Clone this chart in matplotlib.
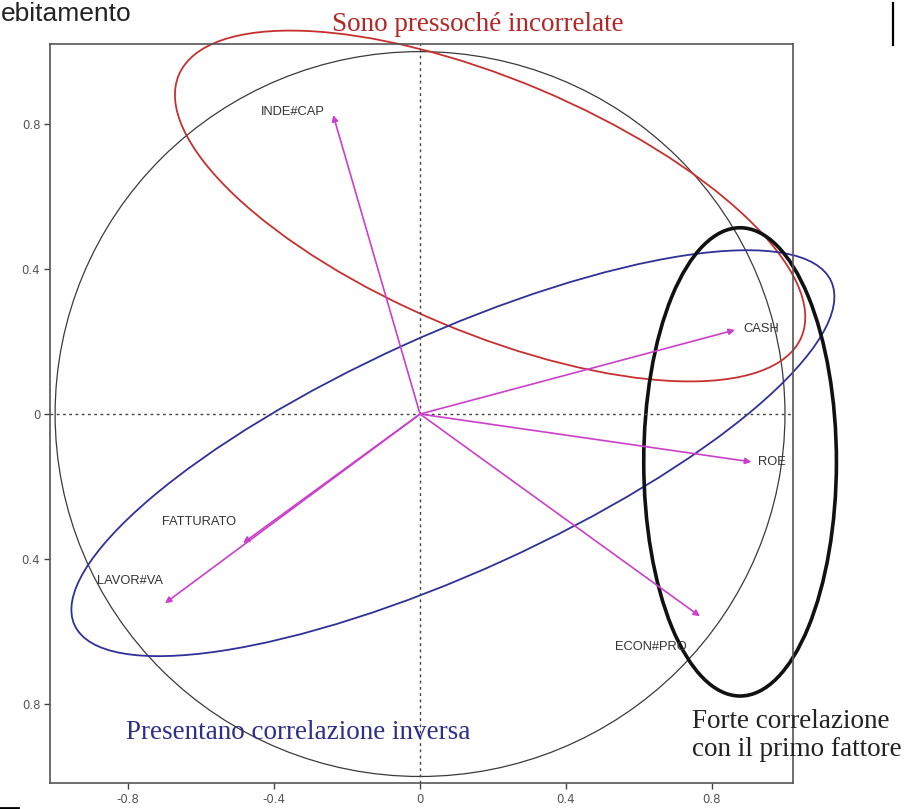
import matplotlib
matplotlib.use("Agg")
import matplotlib.pyplot as plt
from matplotlib.patches import Ellipse, Circle
from matplotlib.lines import Line2D

# variable coordinates on the first two factors
variables = ["INDE#CAP", "CASH", "ROE", "ECON#PRO", "FATTURATO", "LAVOR#VA"]
f1 = [-0.238, 0.863, 0.908, 0.767, -0.485, -0.699]
f2 = [0.825, 0.232, -0.132, -0.558, -0.356, -0.522]
# label offsets from arrow tips (points) and alignment
label_off = [(-6, 2), (6, 1), (5, 0), (-61, -22), (-58, 15), (-49, 16)]
label_ha = ["right", "left", "left", "left", "left", "left"]

xticks = [-0.8, -0.4, 0, 0.4, 0.8]
xtick_labels = ["-0.8", "-0.4", "0", "0.4", "0.8"]
yticks = [0.8, 0.4, 0, -0.4, -0.8]
ytick_labels = ["0.8", "0.4", "0", "0.4", "0.8"]

# highlighted groups: (center x, center y, width, height, angle)
red_ell = (0.192, 0.574, 1.853, 0.698, -23)
blue_ell = (0.09, -0.108, 2.28, 0.654, 24.6)
black_ell = (0.877, -0.132, 0.528, 1.292, 0)

fig = plt.figure(figsize=(9.06, 8.09), dpi=100)
ax = fig.add_axes([50 / 906, 26 / 809, 743 / 906, 739 / 809])
ax.set_xlim(-1.014, 1.022)
ax.set_ylim(-1.018, 1.021)

for s in ax.spines.values():
    s.set_color("#555555")
    s.set_linewidth(1.2)

ax.set_xticks(xticks)
ax.set_xticklabels(xtick_labels)
ax.set_yticks(yticks)
ax.set_yticklabels(ytick_labels)
ax.tick_params(direction="out", length=4, width=1, colors="#444444",
               labelsize=8.5, labelcolor="#555555", pad=3)

ax.axhline(0, color="#444444", lw=1, ls=(0, (2, 2.5)))
ax.axvline(0, color="#444444", lw=1, ls=(0, (2, 2.5)))

ax.add_patch(Circle((0, 0), 1, fill=False, ec="#3a3a3a", lw=0.9))

for name, x, y, off, ha in zip(variables, f1, f2, label_off, label_ha):
    ax.annotate("", xy=(x, y), xytext=(0, 0),
                arrowprops=dict(arrowstyle="-|>", color="#cc3fcc", lw=1.2,
                                mutation_scale=9, shrinkA=0, shrinkB=0))
    ax.annotate(name, xy=(x, y), xytext=off, textcoords="offset points",
                ha=ha, va="center", fontsize=9.3, family="Liberation Sans",
                color="#333333")

for (cx, cy, w, h, a), col, lw in [(red_ell, "#c8302f", 1.3),
                                   (blue_ell, "#30309a", 1.3),
                                   (black_ell, "#111111", 2.6)]:
    ax.add_patch(Ellipse((cx, cy), w, h, angle=a, fill=False, ec=col,
                         lw=lw, clip_on=False))

ax.text(0.159, 1.075, "Sono pressoché incorrelate", color="#b52525",
        fontsize=19.5, family="Liberation Serif", ha="center", va="center",
        clip_on=False)
ax.text(-0.805, -0.88, "Presentano correlazione inversa", color="#2e2e8c",
        fontsize=19.5, family="Liberation Serif", ha="left", va="center")
ax.text(0.745, -0.887, "Forte correlazione\ncon il primo fattore",
        color="#222222", fontsize=19.5, family="Liberation Serif",
        ha="left", va="center", linespacing=1.2, clip_on=False)

# bits of the surrounding slide
fig.text(0.001, 1 - 21 / 809, "ebitamento", fontsize=19,
         family="Liberation Sans", va="baseline", color="#222222")
fig.add_artist(Line2D([893 / 906, 893 / 906], [1 - 3 / 809, 1 - 45 / 809],
                      color="black", lw=1.6))
fig.add_artist(Line2D([0, 18 / 906], [1 / 809, 1 / 809], color="black", lw=2))

fig.savefig("out.png", dpi=100)
